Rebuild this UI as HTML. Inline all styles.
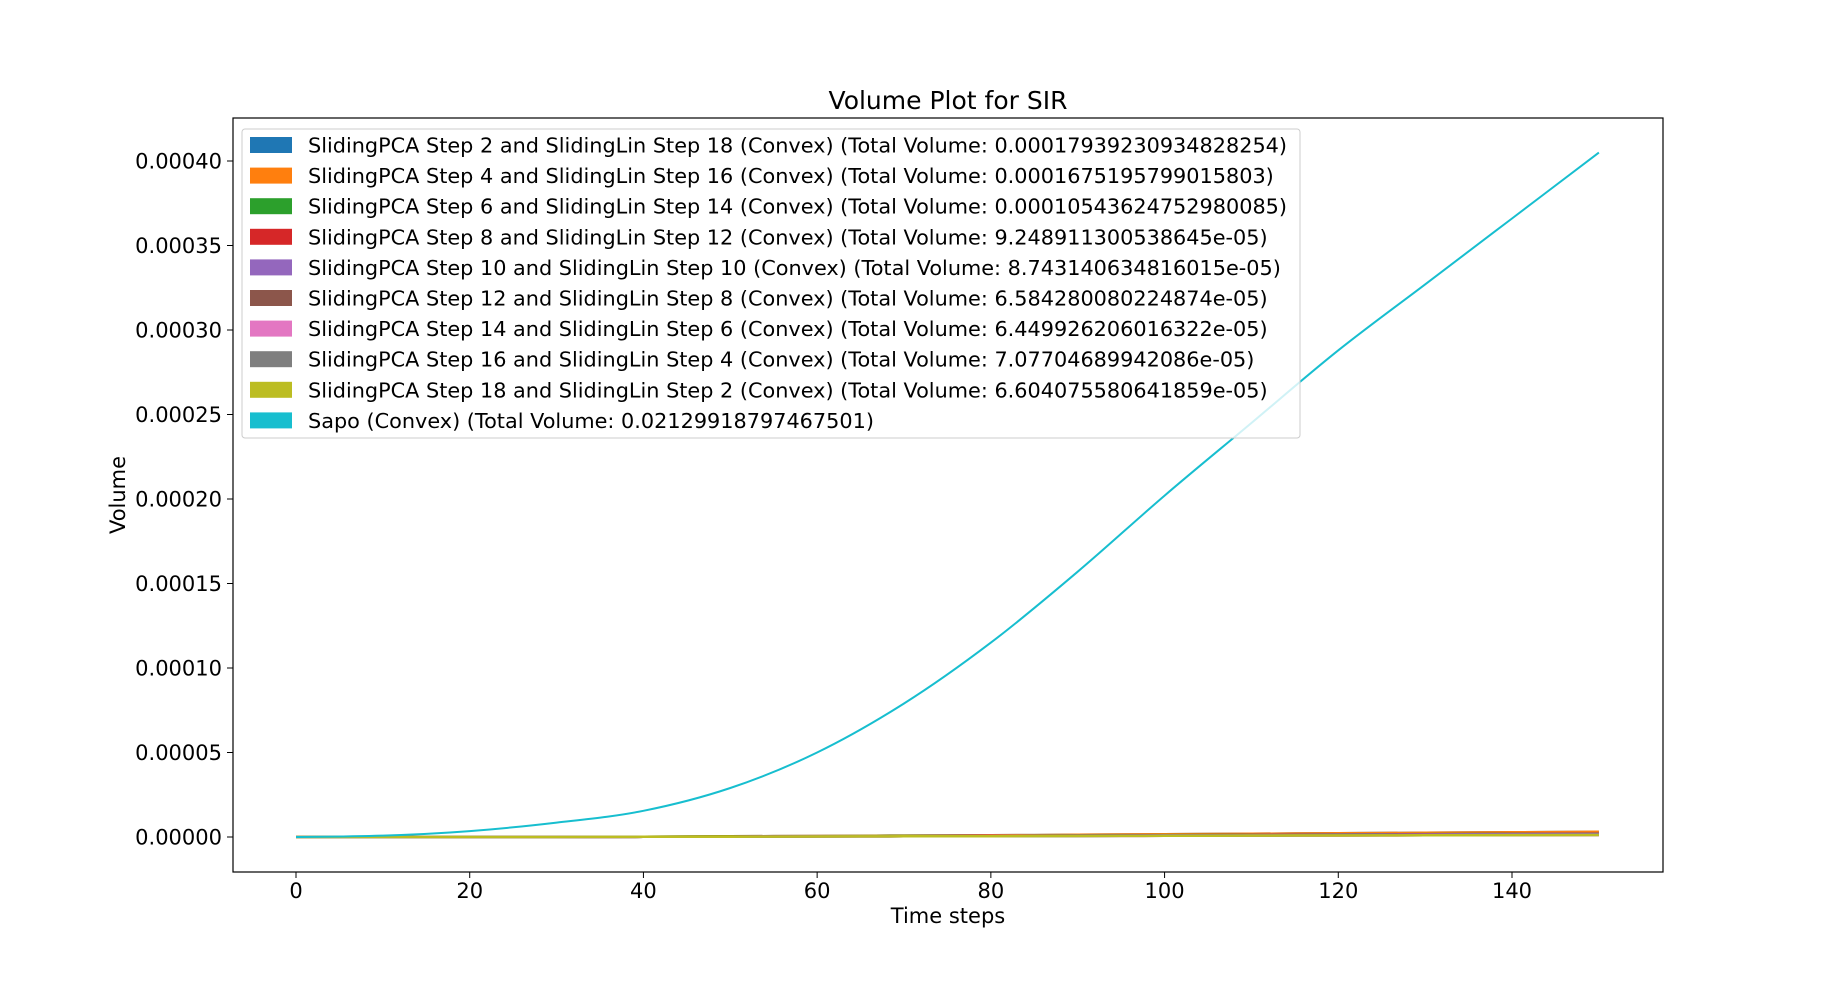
<!DOCTYPE html>
<html><head><meta charset="utf-8"><style>
body{margin:0;background:#fff;}
svg text{font-family:"DejaVu Sans","Liberation Sans",sans-serif;fill:#000;}
</style></head><body>
<svg id="chart" width="1848" height="977" xmlns="http://www.w3.org/2000/svg">
<rect width="1848" height="977" fill="#fff"/>
<text x="948" y="109" font-size="25" text-anchor="middle">Volume Plot for SIR</text>
<g id="series"></g>
<rect x="233" y="118" width="1430" height="754" fill="none" stroke="#000" stroke-width="1.2"/>
<g id="xticks"></g>
<g id="yticks"></g>
<text x="948" y="923" font-size="21" text-anchor="middle">Time steps</text>
<text transform="translate(125,495) rotate(-90)" font-size="21" text-anchor="middle">Volume</text>
<g id="legend"></g>
</svg>
<script>
const times=[0,10,20,30,40,50,60,70,80,90,100,110,120,130,140,150];
const sapo=[0,0.0000008,0.0000035,0.0000085,0.0000155,0.000029,0.000050,0.000079,0.000115,0.000157,0.000202,0.000245,0.000288,0.000327,0.000366,0.000405];
const s1=[0,0,0,0,0.0000002,0.0000004,0.0000006,0.0000008,0.000001,0.0000013,0.0000016,0.0000019,0.0000022,0.0000025,0.0000028,0.000003];
const s2=[0,0,0,0,0.0000002,0.0000004,0.0000006,0.0000008,0.000001,0.0000013,0.0000016,0.0000019,0.0000022,0.0000025,0.0000028,0.0000031];
const s3=[0,0,0,0,0.0000001,0.0000003,0.0000004,0.0000006,0.0000007,0.0000009,0.0000011,0.0000013,0.0000015,0.0000017,0.0000019,0.000002];
const s4=[0,0,0,0,0.0000001,0.0000002,0.0000004,0.0000005,0.0000007,0.0000008,0.000001,0.0000012,0.0000014,0.0000016,0.0000018,0.0000019];
const s5=[0,0,0,0,0.0000001,0.0000002,0.0000004,0.0000005,0.0000006,0.0000008,0.000001,0.0000011,0.0000013,0.0000015,0.0000017,0.0000018];
const s6=[0,0,0,0,0.0000001,0.0000002,0.0000003,0.0000004,0.0000005,0.0000006,0.0000007,0.0000008,0.0000009,0.000001,0.0000011,0.0000012];
const s7=[0,0,0,0,0.0000001,0.0000002,0.0000003,0.0000004,0.0000005,0.0000006,0.0000007,0.0000008,0.0000009,0.000001,0.0000011,0.0000012];
const s8=[0,0,0,0,0.0000001,0.0000002,0.0000003,0.0000004,0.0000005,0.0000006,0.0000008,0.0000009,0.000001,0.0000011,0.0000012,0.0000013];
const s9=[0,0,0,0,0.0000001,0.0000002,0.0000003,0.0000004,0.0000005,0.0000006,0.0000007,0.0000008,0.0000009,0.000001,0.0000011,0.0000012];
const colors=["#1f77b4","#ff7f0e","#2ca02c","#d62728","#9467bd","#8c564b","#e377c2","#7f7f7f","#bcbd22","#17becf"];
const labels=["SlidingPCA Step 2 and SlidingLin Step 18 (Convex) (Total Volume: 0.00017939230934828254)","SlidingPCA Step 4 and SlidingLin Step 16 (Convex) (Total Volume: 0.0001675195799015803)","SlidingPCA Step 6 and SlidingLin Step 14 (Convex) (Total Volume: 0.00010543624752980085)","SlidingPCA Step 8 and SlidingLin Step 12 (Convex) (Total Volume: 9.248911300538645e-05)","SlidingPCA Step 10 and SlidingLin Step 10 (Convex) (Total Volume: 8.743140634816015e-05)","SlidingPCA Step 12 and SlidingLin Step 8 (Convex) (Total Volume: 6.584280080224874e-05)","SlidingPCA Step 14 and SlidingLin Step 6 (Convex) (Total Volume: 6.449926206016322e-05)","SlidingPCA Step 16 and SlidingLin Step 4 (Convex) (Total Volume: 7.07704689942086e-05)","SlidingPCA Step 18 and SlidingLin Step 2 (Convex) (Total Volume: 6.604075580641859e-05)","Sapo (Convex) (Total Volume: 0.02129918797467501)"];
const xTicks=[0,20,40,60,80,100,120,140];
const yTicks=[0,0.00005,0.0001,0.00015,0.0002,0.00025,0.0003,0.00035,0.0004];
const yTickLabels=["0.00000","0.00005","0.00010","0.00015","0.00020","0.00025","0.00030","0.00035","0.00040"];
const NS="http://www.w3.org/2000/svg";
const X=t=>296+t*(1512-296)/140;
const Y=v=>837-v*(837-161)/0.0004;
function mk(tag,attrs,parent){const e=document.createElementNS(NS,tag);for(const k in attrs)e.setAttribute(k,attrs[k]);parent.appendChild(e);return e;}
function smooth(s){
  const P=s.map((v,j)=>[X(times[j]),Y(v)]);
  let d='M'+P[0][0].toFixed(1)+','+P[0][1].toFixed(1);
  for(let i=0;i<P.length-1;i++){
    const p0=P[Math.max(0,i-1)],p1=P[i],p2=P[i+1],p3=P[Math.min(P.length-1,i+2)];
    const c1=[p1[0]+(p2[0]-p0[0])/6,p1[1]+(p2[1]-p0[1])/6];
    const c2=[p2[0]-(p3[0]-p1[0])/6,p2[1]-(p3[1]-p1[1])/6];
    d+='C'+c1.map(n=>n.toFixed(1)).join(',')+' '+c2.map(n=>n.toFixed(1)).join(',')+' '+p2.map(n=>n.toFixed(1)).join(',');
  }
  return d;
}
const all=[s1,s2,s3,s4,s5,s6,s7,s8,s9,sapo];
const sg=document.getElementById('series');
all.forEach((s,i)=>{
  const p=mk('path',{d:smooth(s),fill:'none',stroke:colors[i],'stroke-width':i==9?2:2.5},sg);
  
  
});
const xg=document.getElementById('xticks');
xTicks.forEach(t=>{
  mk('line',{x1:X(t),x2:X(t),y1:872,y2:878,stroke:'#000'},xg);
  const tx=mk('text',{x:X(t),y:898,'font-size':21,'text-anchor':'middle'},xg);tx.textContent=t;
  
  
});
const yg=document.getElementById('yticks');
yTicks.forEach((v,i)=>{
  mk('line',{x1:227,x2:233,y1:Y(v),y2:Y(v),stroke:'#000'},yg);
  const tx=mk('text',{x:222,y:Y(v)+7.5,'font-size':21,'text-anchor':'end'},yg);tx.textContent=yTickLabels[i];
  
  
});
const lg=document.getElementById('legend');
mk('rect',{x:242,y:129,width:1058,height:309,rx:3,fill:'#fff','fill-opacity':0.8,stroke:'#ccc'},lg);
labels.forEach((l,i)=>{
  const y=145+i*30.6;
  const r=mk('rect',{x:250,y:y-8,width:42,height:16,fill:colors[i]},lg);
  
  
  const tx=mk('text',{x:308,y:y+7.5,'font-size':20.8},lg);tx.textContent=l;
  
  
});
</script>
</body></html>
